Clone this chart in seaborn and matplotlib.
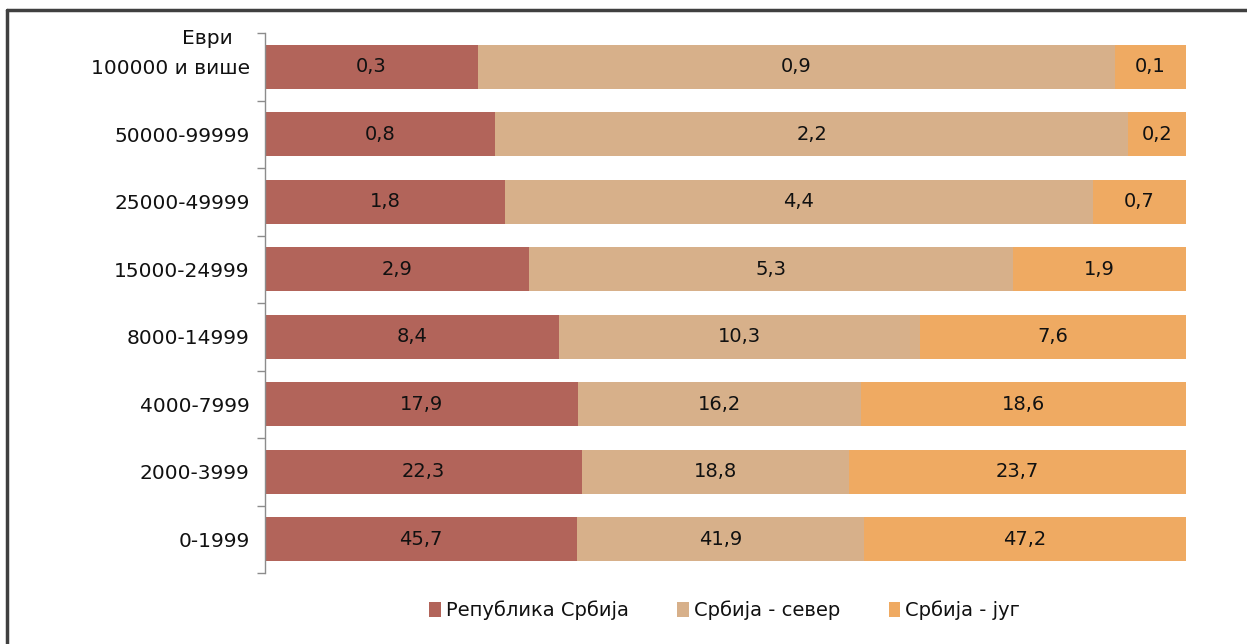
import numpy as np
import pandas as pd
import matplotlib
matplotlib.use("Agg")
import matplotlib.pyplot as plt
import seaborn as sns
from matplotlib.patches import Patch
from matplotlib.lines import Line2D

categories = ["100000 и више", "50000-99999", "25000-49999", "15000-24999",
              "8000-14999", "4000-7999", "2000-3999", "0-1999"]
republika = [0.3, 0.8, 1.8, 2.9, 8.4, 17.9, 22.3, 45.7]
sever = [0.9, 2.2, 4.4, 5.3, 10.3, 16.2, 18.8, 41.9]
jug = [0.1, 0.2, 0.7, 1.9, 7.6, 18.6, 23.7, 47.2]
series_names = ["Република Србија", "Србија - север", "Србија - југ"]
colors = ["#B2645A", "#D7B08A", "#EFAA62"]

sns.set_style("white")
plt.rcParams['font.family'] = ['DejaVu Sans']

vals = np.array([republika, sever, jug])
pct = vals / vals.sum(axis=0) * 100
cum = np.cumsum(pct, axis=0)

df = pd.DataFrame({"cat": categories})
for i in range(3):
    df[f"c{i}"] = cum[i]

fig = plt.figure(figsize=(12.47, 6.44), dpi=100)
ax = fig.add_axes([265 / 1247, 1 - 573 / 644, (1186 - 265) / 1247, (573 - 33) / 644])

# draw from the full stack down so earlier series sit on top
for i in [2, 1, 0]:
    sns.barplot(data=df, x=f"c{i}", y="cat", order=categories, color=colors[i],
                width=0.65, orient="h", ax=ax, linewidth=0, saturation=1)

for j in range(len(categories)):
    start = 0
    for i in range(3):
        end = cum[i][j]
        ax.text((start + end) / 2, j, f"{vals[i][j]:.1f}".replace(".", ","),
                ha="center", va="center", fontsize=14, color="#111111")
        start = end

ax.set_xlim(0, 100)
ax.set_ylim(len(categories) - 0.5, -0.5)
ax.set_xlabel("")
ax.set_ylabel("")
ax.set_xticks([])
for s in ["top", "right", "bottom"]:
    ax.spines[s].set_visible(False)
ax.spines["left"].set_color("#8c8c8c")
ax.spines["left"].set_linewidth(1)

ax.set_yticks(range(len(categories)))
ax.set_yticklabels(categories, fontsize=14.5, color="#111111")
ax.tick_params(axis="y", which="major", length=0, pad=11)
ax.set_yticks(np.arange(-0.5, len(categories), 1), minor=True)
ax.tick_params(axis="y", which="minor", left=True, length=6, width=1,
               color="#8c8c8c", direction="out")

fig.text(233 / 1247, 1 - 38 / 644, "Еври", ha="right", va="center", fontsize=14.5, color="#111111")

handles = [Patch(facecolor=c, edgecolor="none") for c in colors]
fig.legend(handles, series_names, loc="center", bbox_to_anchor=(0.581, 1 - 610 / 644),
           ncol=3, frameon=False, fontsize=14, handlelength=0.6, handleheight=0.8,
           handletextpad=0.25, columnspacing=2.5, labelcolor="#111111")

# outer frame (left and top visible)
fig.add_artist(Line2D([7 / 1247, 7 / 1247], [0, 1 - 10 / 644], transform=fig.transFigure,
                      color="#404040", linewidth=2.5))
fig.add_artist(Line2D([7 / 1247, 1], [1 - 10 / 644, 1 - 10 / 644], transform=fig.transFigure,
                      color="#404040", linewidth=2.5))

fig.savefig("out.png", dpi=100)
